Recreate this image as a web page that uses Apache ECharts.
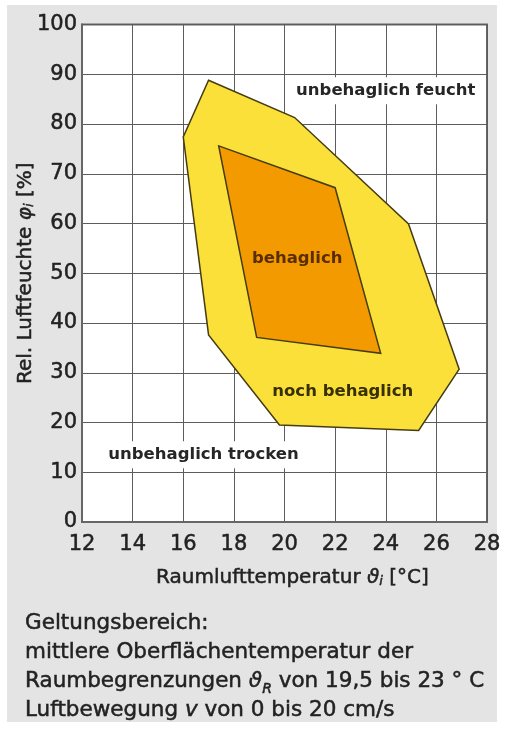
<!DOCTYPE html>
<html><head><meta charset="utf-8">
<script src="https://cdn.jsdelivr.net/npm/echarts@6/dist/echarts.min.js"></script>
<style>
html,body{margin:0;padding:0;background:#fff;}
#bg{position:absolute;left:7px;top:5px;width:490px;height:717px;background:#e4e4e4;}
#chart{position:absolute;left:0;top:0;width:506px;height:733px;}
</style></head>
<body><div id="bg"></div><div id="chart"></div>
<script>
// Outer region "noch behaglich" (temperature °C, rel. humidity %)
const outerX = [17.0, 20.4, 24.9, 26.9, 25.3, 19.8, 17.0, 16.0];
const outerY = [88.8, 81.3, 59.9, 30.7, 18.4, 19.5, 37.6, 77.4];
// Inner region "behaglich"
const innerX = [17.4, 22.0, 23.8, 18.9];
const innerY = [75.6, 67.2, 33.9, 37.1];
// Region labels
const labelText = ['unbehaglich feucht', 'behaglich', 'noch behaglich', 'unbehaglich trocken'];
const labelX = [24.0, 20.5, 22.3, 16.8];
const labelY = [86.7, 53.0, 26.2, 13.5];
// Axis ticks
const xTicks = [12, 14, 16, 18, 20, 22, 24, 26, 28];
const yTicks = [0, 10, 20, 30, 40, 50, 60, 70, 80, 90, 100];
const captionLines = [
  'Geltungsbereich:',
  'mittlere Oberflächentemperatur der',
  'Raumbegrenzungen {it|ϑ}{sub|R} von 19,5 bis 23 ° C',
  'Luftbewegung {it|v} von 0 bis 20 cm/s'
];

const FONT = 'DejaVu Sans';
const TXT = '#222';
const chart = echarts.init(document.getElementById('chart'), null, {renderer: 'canvas'});

function polyRender(xs, ys, fill) {
  return function (params, api) {
    const pts = xs.map((x, i) => api.coord([x, ys[i]]));
    return {type: 'polygon', shape: {points: pts},
      style: {fill: fill, stroke: '#463c14', lineWidth: 1.5}};
  };
}

const labelStyles = [
  {color: '#262626', backgroundColor: '#fff', padding: [5, 7, 5, 7]},
  {color: '#5a2e00'},
  {color: '#383000'},
  {color: '#262626', backgroundColor: '#fff', padding: [5, 6, 5, 6]}
];
const thick = {textBorderColor: TXT, textBorderWidth: 0.5};

chart.setOption({
  backgroundColor: 'transparent',
  animation: false,
  textStyle: {fontFamily: FONT},
  title: {
    text: captionLines.join('\n'),
    left: 20, top: 604,
    textStyle: Object.assign({
      fontFamily: FONT, fontSize: 21.5, fontWeight: 'normal', color: TXT, lineHeight: 29,
      rich: {
        it: Object.assign({fontFamily: FONT, fontSize: 21.5, fontStyle: 'italic', color: TXT, lineHeight: 29}, thick),
        sub: Object.assign({fontFamily: FONT, fontSize: 14, fontStyle: 'italic', color: TXT, verticalAlign: 'bottom', lineHeight: 22}, thick)
      }
    }, thick)
  },
  grid: {left: 82, right: 19, top: 24.5, bottom: 211, show: true, backgroundColor: '#fff',
    borderColor: '#666', borderWidth: 2, containLabel: false, outerBoundsMode: 'none'},
  xAxis: {
    type: 'value', min: xTicks[0], max: xTicks[xTicks.length - 1], interval: 2,
    name: 'Raumlufttemperatur {it|ϑ}{sub|i} [°C]', nameLocation: 'middle', nameGap: 46,
    nameMoveOverlap: false,
    nameTextStyle: Object.assign({fontFamily: FONT, fontSize: 20, color: TXT, padding: [0, 0, 0, 16],
      rich: {it: Object.assign({fontSize: 20, fontStyle: 'italic', color: TXT}, thick),
             sub: Object.assign({fontSize: 13, fontStyle: 'italic', color: TXT, verticalAlign: 'bottom'}, thick)}}, thick),
    axisLine: {show: true, lineStyle: {color: '#666', width: 2}},
    axisTick: {show: false},
    axisLabel: Object.assign({fontFamily: FONT, fontSize: 21, color: TXT, margin: 12}, thick),
    splitLine: {show: true, lineStyle: {color: '#5c5c5c', width: 1}}
  },
  yAxis: {
    type: 'value', min: yTicks[0], max: yTicks[yTicks.length - 1], interval: 10,
    name: 'Rel. Luftfeuchte {it|φ}{sub|i} [%]', nameLocation: 'middle', nameGap: 46, nameRotate: 90,
    nameMoveOverlap: false,
    nameTextStyle: Object.assign({fontFamily: FONT, fontSize: 20, color: TXT,
      rich: {it: Object.assign({fontSize: 20, fontStyle: 'italic', color: TXT}, thick),
             sub: Object.assign({fontSize: 13, fontStyle: 'italic', color: TXT, verticalAlign: 'bottom'}, thick)}}, thick),
    axisLine: {show: true, lineStyle: {color: '#666', width: 2}},
    axisTick: {show: false},
    axisLabel: Object.assign({fontFamily: FONT, fontSize: 21, color: TXT, margin: 5}, thick),
    splitLine: {show: true, lineStyle: {color: '#5c5c5c', width: 1}}
  },
  series: [
    {type: 'custom', renderItem: polyRender(outerX, outerY, '#fbe03a'), data: [0], z: 2, silent: true},
    {type: 'custom', renderItem: polyRender(innerX, innerY, '#f39a00'), data: [0], z: 3, silent: true},
    {
      type: 'scatter', symbolSize: 0, z: 5, silent: true, itemStyle: {opacity: 1},
      data: labelText.map((t, i) => ({
        value: [labelX[i], labelY[i]], name: t,
        label: Object.assign({show: true, position: 'inside', formatter: '{b}',
          fontFamily: FONT, fontSize: 16.5, fontWeight: 'bold'}, labelStyles[i])
      }))
    }
  ]
});
</script></body></html>
